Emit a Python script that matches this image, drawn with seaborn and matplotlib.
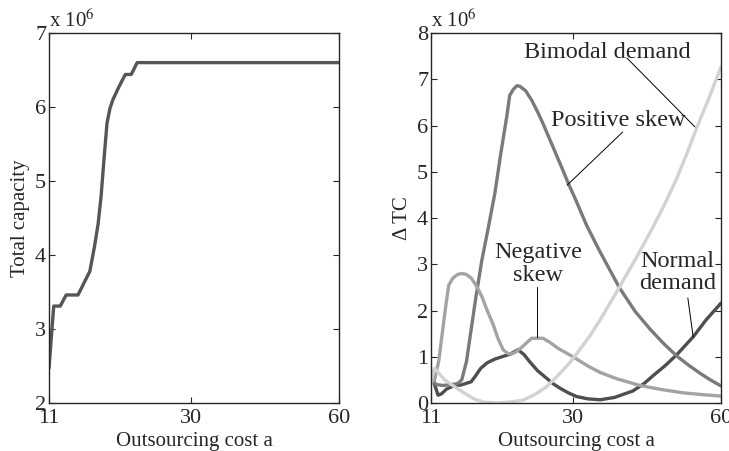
import numpy as np
import pandas as pd
import matplotlib
matplotlib.use("Agg")
import matplotlib.pyplot as plt
import seaborn as sns

# x positions on the plotted axis (tick labels 11 / 30 / 60 sit at 11 / 35 / 60)
xtick_pos = [11, 35, 60]
xtick_labels = ["11", "30", "60"]

# left panel: total capacity (units of 1e6)
cap_x = [11, 11.8, 12.9, 13.9, 15.9, 17.9, 18.7, 19.3, 19.8, 20.3, 20.8, 21.3, 21.8, 22.8,
         23.9, 24.9, 25.9, 60]
cap_y = [2.47, 3.31, 3.31, 3.46, 3.46, 3.78, 4.12, 4.42, 4.79, 5.30, 5.78, 5.98, 6.10, 6.27,
         6.44, 6.44, 6.60, 6.60]

# right panel: delta TC (units of 1e6)
pos_x = [11, 11.8, 13, 14.5, 15.5, 16.2, 17, 17.8, 18.6, 19.6, 20.7, 21.8, 22.8, 23.8, 24.3,
         24.9, 25.5, 26.0, 27.0, 28.0, 29.0, 29.9, 31.0, 32.0, 33.2, 34.2, 35.5, 37.3, 39.6,
         42.9, 45.5, 48.0, 50.2, 52.5, 54.5, 56.5, 58.2, 60]
pos_y = [0.6, 0.4, 0.38, 0.4, 0.42, 0.5, 0.9, 1.6, 2.3, 3.09, 3.8, 4.54, 5.4, 6.19, 6.65,
         6.78, 6.86, 6.85, 6.75, 6.55, 6.3, 6.05, 5.72, 5.42, 5.06, 4.75, 4.38, 3.84, 3.26,
         2.48, 1.98, 1.6, 1.3, 1.02, 0.82, 0.64, 0.5, 0.37]

neg_x = [11, 11.6, 12.3, 12.9, 13.5, 14.0, 14.7, 15.5, 16.2, 17.0, 17.8, 18.6, 19.6, 20.5,
         21.5, 22.3, 23.2, 24.0, 24.6, 25.3, 26.3, 27.3, 28.0, 29.9, 31.0, 32.5, 35.0, 37.5,
         39.6, 42.5, 46.3, 50.0, 53.6, 57.0, 60]
neg_y = [0.45, 0.5, 0.9, 1.5, 2.1, 2.55, 2.7, 2.78, 2.8, 2.78, 2.7, 2.55, 2.3, 2.0,
         1.7, 1.4, 1.15, 1.07, 1.06, 1.1, 1.2, 1.32, 1.4, 1.4, 1.32, 1.18, 1.0, 0.8,
         0.66, 0.52, 0.38, 0.29, 0.22, 0.18, 0.15]

norm_x = [11, 11.6, 12.2, 12.8, 13.6, 15.0, 16.1, 17.8, 18.6, 19.4, 20.5, 21.8, 23.0, 24.4,
          25.7, 26.7, 27.7, 29.0, 30.5, 31.6, 32.8, 34.2, 35.6, 37.5, 39.6, 42.0, 45.1, 47.0,
          48.6, 50.5, 52.5, 55.3, 57.5, 60]
norm_y = [0.7, 0.4, 0.17, 0.2, 0.3, 0.38, 0.39, 0.46, 0.6, 0.75, 0.87, 0.95, 1.0, 1.06,
          1.15, 1.05, 0.89, 0.7, 0.54, 0.42, 0.32, 0.22, 0.14, 0.09, 0.07, 0.12, 0.26, 0.42,
          0.6, 0.8, 1.04, 1.43, 1.8, 2.16]

bim_x = [11, 11.6, 12.3, 13.3, 15.0, 16.7, 18.4, 20.0, 22.0, 24.3, 26.5, 28.5, 30.5, 32.5,
         34.5, 36.0, 37.9, 39.6, 41.3, 42.9, 45.5, 48.5, 50.5, 52.5, 54.2, 55.9, 58.0, 60]
bim_y = [0.45, 0.75, 0.65, 0.5, 0.35, 0.21, 0.08, 0.02, 0.0, 0.02, 0.06, 0.18, 0.35, 0.6,
         0.88, 1.13, 1.46, 1.8, 2.17, 2.52, 3.1, 3.8, 4.3, 4.85, 5.38, 5.95, 6.6, 7.27]

series = {
    "Normal demand": (norm_x, norm_y, "#4e4e4e"),
    "Positive skew": (pos_x, pos_y, "#7a7a7a"),
    "Negative skew": (neg_x, neg_y, "#a3a3a3"),
    "Bimodal demand": (bim_x, bim_y, "#d2d2d2"),
}

sns.set_style("ticks")
plt.rcParams["font.family"] = ["Liberation Serif", "DejaVu Serif"]
plt.rcParams["mathtext.fontset"] = "stix"

fig = plt.figure(figsize=(7.29, 4.51), dpi=100)
ax1 = fig.add_axes([0.0672, 0.1064, 0.3978, 0.8204])
ax2 = fig.add_axes([0.5912, 0.1064, 0.3978, 0.8204])

sns.lineplot(x=cap_x, y=cap_y, ax=ax1, color="#565656", lw=2.4, sort=False, estimator=None)
ax1.set_ylim(2, 7)
ax1.set_yticks(range(2, 8))
ax1.set_ylabel("Total capacity", fontsize=15, labelpad=4)

for name, (xs, ys, col) in series.items():
    df = pd.DataFrame({"a": xs, "dtc": ys})
    sns.lineplot(data=df, x="a", y="dtc", ax=ax2, color=col, lw=2.4, sort=False, estimator=None)
ax2.set_ylim(0, 8)
ax2.set_yticks(range(0, 9))
ax2.set_ylabel("\u0394 TC", fontsize=15, labelpad=4)

for ax in (ax1, ax2):
    ax.set_xlim(11, 60)
    ax.set_xticks(xtick_pos)
    ax.set_xticklabels(xtick_labels)
    ax.set_xlabel("Outsourcing cost a", fontsize=15, labelpad=3)
    ax.tick_params(direction="in", top=True, right=True, labelsize=16, length=4,
                   width=0.8, pad=2)
    ax.tick_params(axis="x", pad=4)
    for sp in ax.spines.values():
        sp.set_linewidth(1.0)
    ax.text(0.0, 1.003, "x 10$^{6}$", transform=ax.transAxes, fontsize=15,
            ha="left", va="bottom")

lkw = dict(color="black", lw=0.7)
tkw = dict(fontsize=17.5, ha="center", va="center", linespacing=1.1)
ax2.text(40.8, 7.58, "Bimodal demand", **tkw)
ax2.plot([44.1, 55.6], [7.46, 5.97], **lkw)
ax2.text(42.7, 6.1, "Positive skew", **tkw)
ax2.plot([43.4, 34.0], [5.86, 4.71], **lkw)
ax2.text(29.1, 3.0, "Negative\nskew", **tkw)
ax2.plot([28.9, 28.9], [2.51, 1.43], **lkw)
ax2.text(52.7, 2.82, "Normal\ndemand", **tkw)
ax2.plot([54.4, 55.3], [2.27, 1.43], **lkw)

fig.savefig("out.png", dpi=100)
